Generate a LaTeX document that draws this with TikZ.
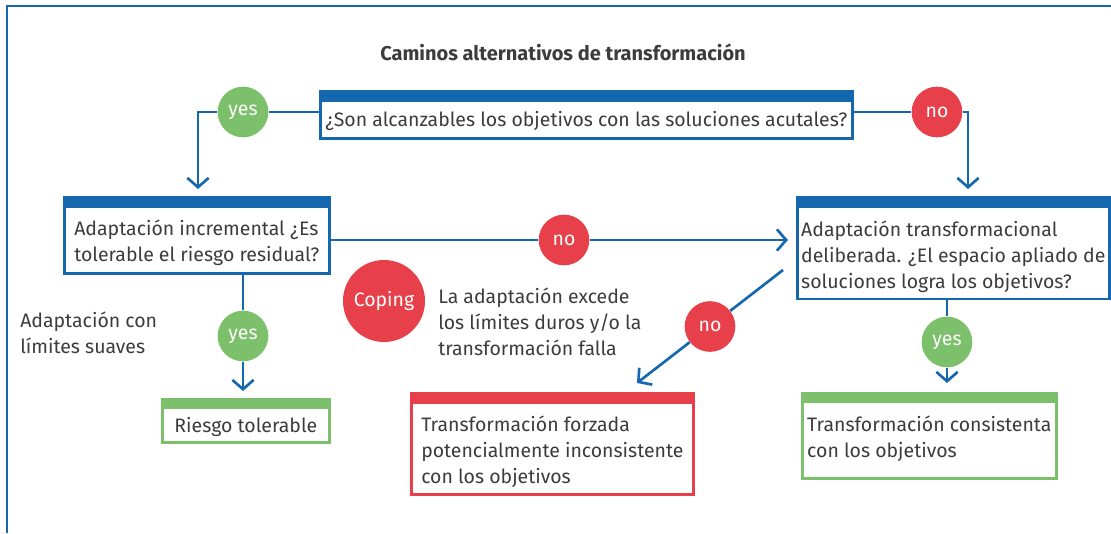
\documentclass[tikz,border=0pt]{standalone}
\usepackage{fontspec}
\setmainfont{Fira Sans}
\usetikzlibrary{arrows.meta}
\definecolor{cblue}{HTML}{1568AD}
\definecolor{cgreen}{HTML}{7DC06C}
\definecolor{cred}{HTML}{E8404B}
\definecolor{ctext}{HTML}{3C3C3C}
\newcommand\boxtop[1]{\rule{0pt}{#1}}
\newcommand\boxbot[1]{\rule[-#1]{0pt}{0pt}}

\begin{document}
\begin{tikzpicture}[x=0.75pt,y=-0.75pt,font=\fontsize{14.6}{19.5}\selectfont,text=ctext]
        \tikzstyle{box}=[draw,line width=2pt,fill=white,anchor=north west,align=left,inner xsep=0pt,inner ysep=0pt]
        \tikzstyle{bluebox}=[box,draw=cblue,path picture={\fill[cblue] (path picture bounding box.north west) rectangle ([yshift=-8pt]path picture bounding box.north east);}]
        \tikzstyle{greenbox}=[box,draw=cgreen,path picture={\fill[cgreen] (path picture bounding box.north west) rectangle ([yshift=-7pt]path picture bounding box.north east);}]
        \tikzstyle{redbox}=[box,draw=cred,path picture={\fill[cred] (path picture bounding box.north west) rectangle ([yshift=-8pt]path picture bounding box.north east);}]
        \tikzstyle{yesdot}=[circle,fill=cgreen,text=white,minimum size=38pt,inner sep=0pt]
        \tikzstyle{nodot}=[circle,fill=cred,text=white,minimum size=38pt,inner sep=0pt]
        \tikzstyle{edge}=[draw=cblue,line width=2pt,-{Straight Barb[length=7pt,width=16pt]}]

        \useasboundingbox (0,0) rectangle (1111,533);
        \draw[cblue,line width=2pt] (7,533) -- (7,6) -- (1111,6);

        \node [font=\fontsize{15}{19.5}\selectfont\bfseries,anchor=base] (title) at (563,60) {Caminos alternativos de transformación};

        % questions
        \node [bluebox,minimum width=399pt] (q0) at (319,90) {\boxtop{26pt}¿Son alcanzables los objetivos con las soluciones acutales?\boxbot{9.5pt}};
        \node [bluebox,minimum width=198.75pt] (q1) at (63,196) {\boxtop{28.5pt}Adaptación incremental ¿Es\\tolerable el riesgo residual?\boxbot{9pt}};
        \node [bluebox,minimum width=234pt] (q2) at (796,196) {\boxtop{29pt}Adaptación transformacional\\deliberada. ¿El espacio apliado de\\soluciones logra los objetivos?\boxbot{8.25pt}};

        % outcomes
        \node [greenbox,minimum width=125.25pt] (r0) at (161,398) {\boxtop{24.75pt}Riesgo tolerable\boxbot{7.5pt}};
        \node [redbox,minimum width=211.5pt] (r1) at (410,392) {\boxtop{28.5pt}Transformación forzada\\potencialmente inconsistente\\con los objetivos\boxbot{8.25pt}};
        \node [greenbox,minimum width=190.5pt] (r2) at (801,392) {\boxtop{28.5pt}Transformación consistenta\\con los objetivos\boxbot{15.75pt}};

        % answers
        \node [yesdot] (y0) at (243,112) {yes};
        \node [nodot] (n0) at (937,112) {no};
        \node [nodot] (n1) at (564,240) {no};
        \node [nodot] (n2) at (710,326.5) {no};
        \node [yesdot] (y1) at (243,336) {yes};
        \node [yesdot] (y2) at (947,342) {yes};
        \node [circle,fill=cred,text=white,minimum size=61.5pt,inner sep=0pt] (cope) at (384,301) {Coping};

        \node [anchor=base west,align=left,inner xsep=0pt] (t0) at (438,355) {La adaptación excede\\los límites duros y/o la\\transformación falla};
        \node [anchor=base west,align=left,inner xsep=0pt] (t1) at (20,353) {Adaptación con\\límites suaves};

        \coordinate (c0) at (198,189);
        \coordinate (c1) at (968,189);
        \coordinate (c2) at (788,240);
        \coordinate (c3) at (783,270);
        \coordinate (c4) at (637,383);
        \coordinate (c5) at (243,391);
        \coordinate (c6) at (947,383);

        \path[edge] (q0.west |- y0) -- (y0) -| (c0);
        \path[edge] (q0.east |- n0) -- (n0) -| (c1);
        \path[edge] (q1.east |- n1) -- (n1) -- (c2);
        \path[edge] (c3) -- (n2) -- (c4);
        \path[edge] (q1.south -| y1) -- (y1) -- (c5);
        \path[edge] (q2.south -| y2) -- (y2) -- (c6);
\end{tikzpicture}
\end{document}
